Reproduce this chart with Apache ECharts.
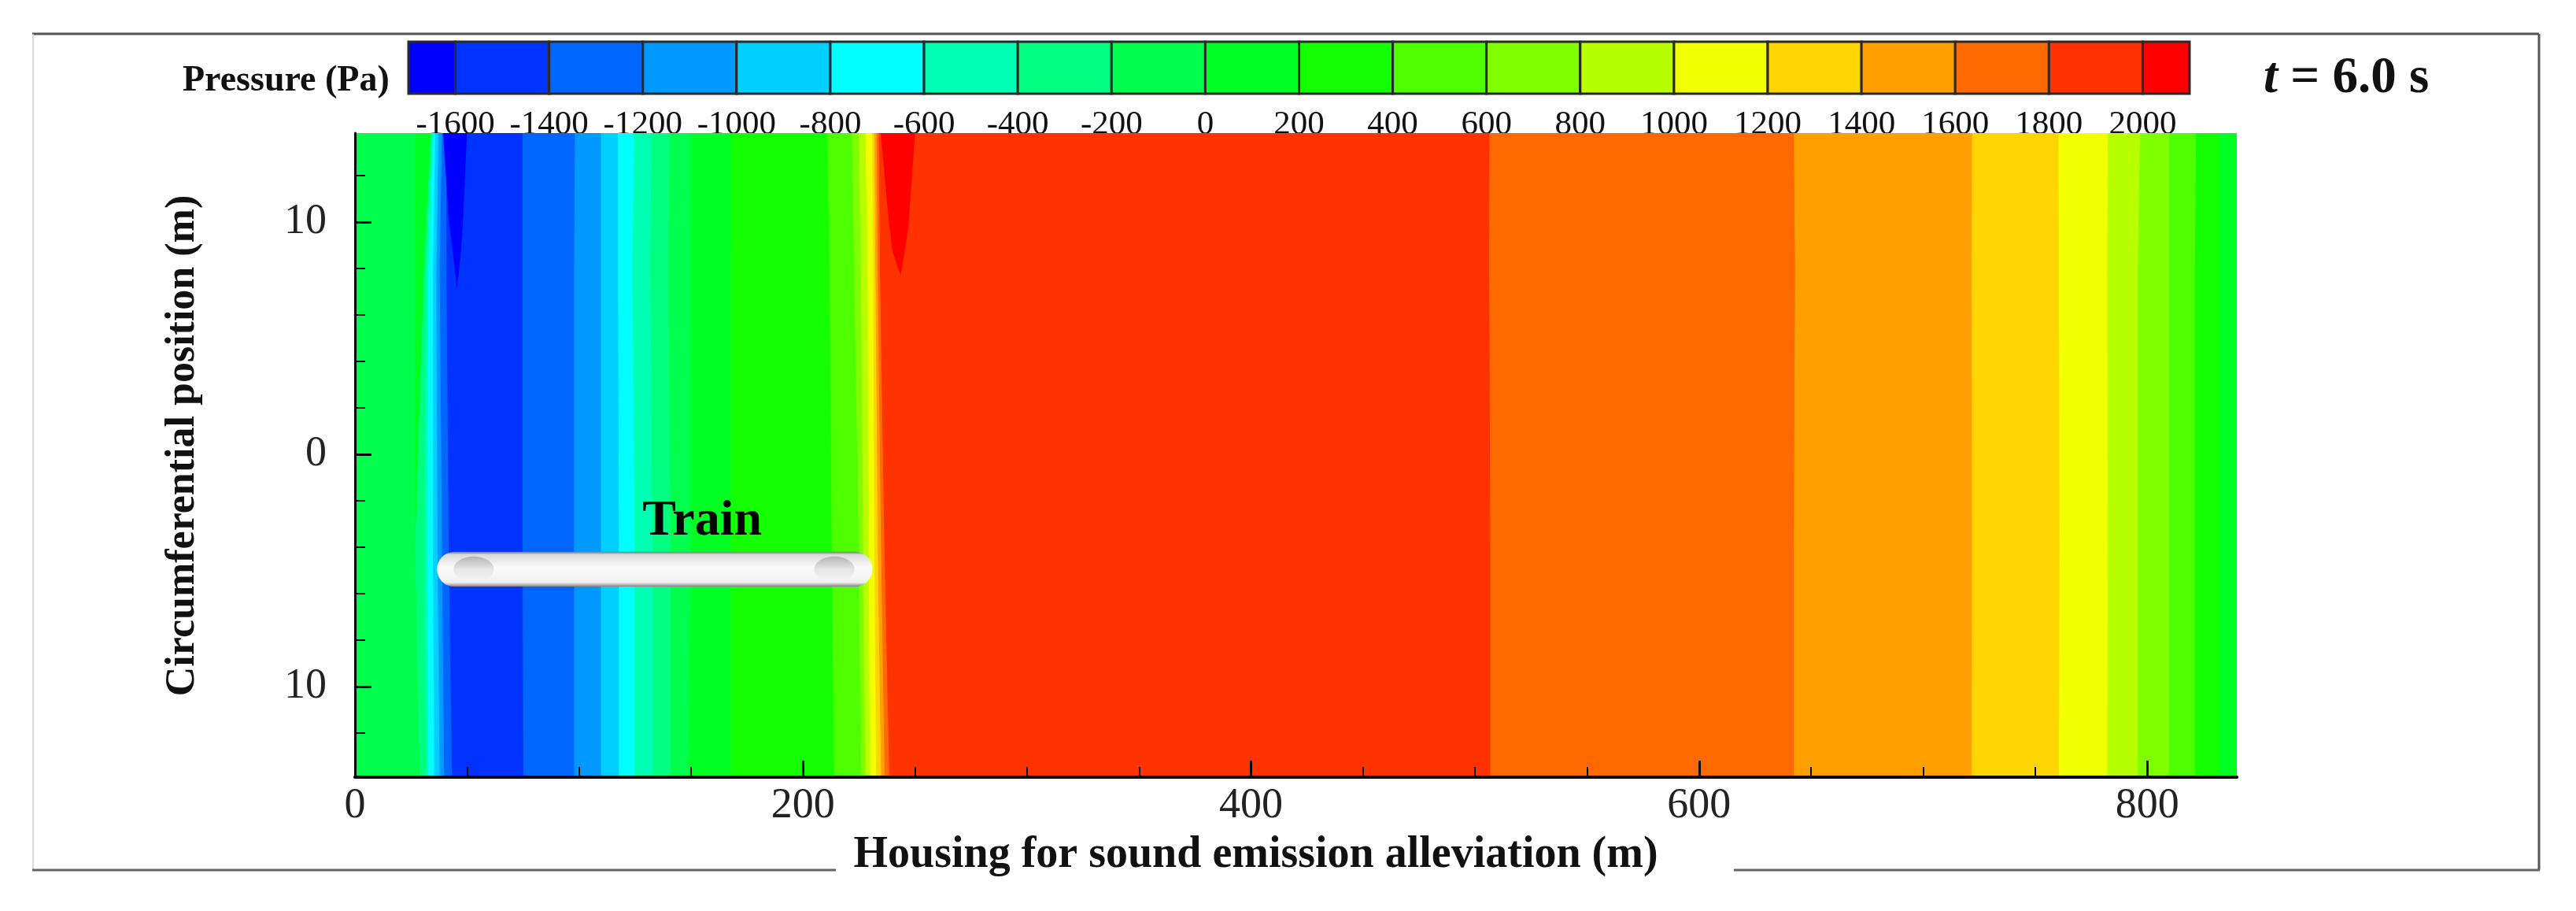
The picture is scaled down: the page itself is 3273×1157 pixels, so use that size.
<!DOCTYPE html>
<html>
<head>
<meta charset="utf-8">
<title>Pressure t = 6.0 s</title>
<script src="https://cdn.jsdelivr.net/npm/echarts@6/dist/echarts.min.js"></script>
<style>
    html, body { margin: 0; padding: 0; background: #fff; }
    #chart { width: 3273px; height: 1157px; }
</style>
</head>
<body>
<div id="chart"></div>
<script>
var FONT = '"Liberation Serif", serif';

// colour bar
var pressureEdges = [-1700, -1600, -1400, -1200, -1000, -800, -600, -400, -200, 0, 200, 400, 600, 800, 1000, 1200, 1400, 1600, 1800, 2000, 2100];
var pressureTicks = [-1600, -1400, -1200, -1000, -800, -600, -400, -200, 0, 200, 400, 600, 800, 1000, 1200, 1400, 1600, 1800, 2000];
var pressureColors = ['#0000ff', '#0033ff', '#0066ff', '#0099ff', '#00d0ff', '#00ffff', '#00ffb3', '#00ff80', '#00ff4d', '#00ff22',
    '#14ff00', '#4dff00', '#80ff00', '#b8ff00', '#f2ff00', '#ffd500', '#ffa000', '#ff6a00', '#ff3300', '#ff0000'];

// axes
var xRange = [0, 840];
var yRange = [-13.9, 13.83];
var xMajor = [0, 200, 400, 600, 800];
var xMinor = [50, 100, 150, 250, 300, 350, 450, 500, 550, 650, 700, 750];
var yMajor = [-10, 0, 10];
var yMinor = [-12, -8, -6, -4, -2, 2, 4, 6, 8, 12];

// contour field: band colour index, then its right edge (m) at each of the y levels
var yLevels = [13.83, 8, -4, -13.9];
var bandLevel = [8, 9, 7, 6, 5, 4, 3, 2, 1, 2, 3, 4, 5, 6, 7, 8, 9, 10, 11, 12, 13, 14, 15, 16, 17, 18, 17, 16, 15, 14, 13, 12, 11, 10, 9];
var bandEdges = [
    [27, 27, 27, 29],
    [34, 31, 27, 29],
    [34.5, 32, 31, 32],
    [35, 33, 32.5, 33],
    [36, 35, 35, 35.5],
    [37.5, 36.5, 37, 38],
    [39, 38, 39, 40],
    [41, 41, 42, 43.5],
    [75, 75, 75, 75.3],
    [98.4, 98, 98, 98],
    [110, 110, 110, 110],
    [117.6, 117.6, 118, 118],
    [124.8, 124, 125, 125],
    [132.5, 132, 133, 133],
    [140.6, 140, 141, 141],
    [150, 150, 150, 149],
    [168.3, 168, 168, 168],
    [211, 212, 213, 214],
    [222, 223, 225, 226],
    [225, 226, 227, 228],
    [228, 229, 229.5, 230],
    [231, 231.5, 232, 232.8],
    [232, 232.5, 233.5, 235],
    [233, 233.5, 235, 236.6],
    [234, 234.5, 236.5, 238.7],
    [506.6, 506.5, 507, 507],
    [642.5, 643, 642.5, 642.5],
    [722, 721.8, 722, 721.8],
    [760.6, 760.8, 761, 760.8],
    [782.6, 782.3, 782.5, 782.3],
    [797, 796, 796, 796],
    [810, 810, 810, 810],
    [822, 821.5, 821.5, 821.5],
    [832.5, 832.5, 832.5, 832.5],
    [840, 840, 840, 840]
];

// the two small low / high pressure tongues near the top
var blueTongue = [[39.3, 13.83], [42, 10], [43.7, 8.7], [45.5, 7.1], [47.3, 8.7], [48.2, 10], [50, 13.83]];
var redTongue = [[234.7, 13.83], [238.3, 10], [240, 8.7], [243.6, 7.7], [245.4, 8.7], [247.2, 10], [250, 13.83]];

// train body and its two noses
var trainX = [36.6, 231];
var trainY = [-4.2, -5.7];
var noseLeftX = [44, 62];
var noseRightX = [205, 223];
var noseY = [-4.4, -5.5];
var trainLabel = [155, -2.9];

function renderBand(params, api) {
    var i = params.dataIndex;
    var right = bandEdges[i];
    var pts = [];
    for (var k = 0; k < yLevels.length; k++) {
        pts.push(api.coord([right[k], yLevels[k]]));
    }
    for (var k = yLevels.length - 1; k >= 0; k--) {
        pts.push(api.coord([i === 0 ? 0 : bandEdges[i - 1][k], yLevels[k]]));
    }
    var c = pressureColors[bandLevel[i]];
    return { type: 'polygon', shape: { points: pts }, style: { fill: c, stroke: c, lineWidth: 1 } };
}

function renderTongue(params, api) {
    var t = params.dataIndex === 0 ? blueTongue : redTongue;
    return {
        type: 'polygon',
        shape: { points: t.map(function (p) { return api.coord(p); }) },
        style: { fill: pressureColors[params.dataIndex === 0 ? 0 : 19] }
    };
}

function noseShape(api, xs) {
    var a = api.coord([xs[0], noseY[0]]);
    var b = api.coord([xs[1], noseY[1]]);
    return {
        type: 'ellipse',
        shape: { cx: (a[0] + b[0]) / 2, cy: (a[1] + b[1]) / 2, rx: (b[0] - a[0]) / 2, ry: (b[1] - a[1]) / 2 },
        style: {
            fill: new echarts.graphic.LinearGradient(0, 0, 0, 1, [
                { offset: 0, color: '#b4b4b4' },
                { offset: 0.5, color: '#e6e6e6' },
                { offset: 1, color: '#f4f4f4' }
            ])
        }
    };
}

function renderTrain(params, api) {
    var a = api.coord([trainX[0], trainY[0]]);
    var b = api.coord([trainX[1], trainY[1]]);
    var l = api.coord(trainLabel);
    return {
        type: 'group',
        children: [
            {
                type: 'rect',
                shape: { x: a[0], y: a[1], width: b[0] - a[0], height: b[1] - a[1], r: (b[1] - a[1]) / 2 },
                style: {
                    fill: new echarts.graphic.LinearGradient(0, 0, 0, 1, [
                        { offset: 0, color: '#7a7a7a' },
                        { offset: 0.08, color: '#dadada' },
                        { offset: 0.45, color: '#fbfbfb' },
                        { offset: 0.88, color: '#f0f0f0' },
                        { offset: 1, color: '#808080' }
                    ])
                }
            },
            noseShape(api, noseLeftX),
            noseShape(api, noseRightX),
            {
                type: 'text',
                x: l[0],
                y: l[1],
                style: { text: 'Train', fill: '#000', font: 'bold 64px ' + FONT, align: 'center', verticalAlign: 'middle' }
            }
        ]
    };
}

function renderSwatch(params, api) {
    var i = params.dataIndex;
    var a = api.coord([pressureEdges[i], 1]);
    var b = api.coord([pressureEdges[i + 1], 0]);
    return {
        type: 'rect',
        shape: { x: a[0], y: a[1], width: b[0] - a[0], height: b[1] - a[1] },
        style: { fill: pressureColors[i], stroke: '#2a2a2a', lineWidth: 3 }
    };
}

var myChart = echarts.init(document.getElementById('chart'));
var plotAxisFont = { fontFamily: FONT, fontSize: 54, color: '#222' };

var option = {
    animation: false,
    backgroundColor: '#fff',
    grid: [
        { left: 451, top: 169, width: 2391, height: 818 },
        { left: 519, top: 53, width: 2263, height: 66 }
    ],
    xAxis: [
        {
            type: 'value', gridIndex: 0, position: 'bottom', min: xRange[0], max: xRange[1], z: 10,
            splitLine: { show: false },
            axisLine: { show: true, onZero: false, lineStyle: { color: '#000', width: 4 } },
            axisTick: { show: true, inside: true, length: 21, customValues: xMajor, lineStyle: { color: '#000', width: 3 } },
            axisLabel: { customValues: xMajor, margin: 10, formatter: function (v) { return String(v); }, ...plotAxisFont },
            name: 'Housing for sound emission alleviation (m)',
            nameLocation: 'middle',
            nameGap: 72,
            nameTextStyle: { fontFamily: FONT, fontWeight: 'bold', fontSize: 56, color: '#111', padding: [0, 102, 0, 0] }
        },
        {
            type: 'value', gridIndex: 0, position: 'bottom', min: xRange[0], max: xRange[1], z: 10,
            splitLine: { show: false },
            axisLine: { show: false, onZero: false },
            axisTick: { show: true, inside: true, length: 13, customValues: xMinor, lineStyle: { color: '#000', width: 2 } },
            axisLabel: { show: false }
        },
        {
            type: 'value', gridIndex: 1, position: 'bottom', min: pressureEdges[0], max: pressureEdges[pressureEdges.length - 1],
            splitLine: { show: false },
            axisLine: { show: false, onZero: false },
            axisTick: { show: false },
            axisLabel: {
                customValues: pressureTicks, margin: 18, fontFamily: FONT, fontSize: 43, color: '#111',
                formatter: function (v) { return String(v); }
            }
        }
    ],
    yAxis: [
        {
            type: 'value', gridIndex: 0, position: 'left', min: yRange[0], max: yRange[1], z: 10,
            splitLine: { show: false },
            axisLine: { show: true, onZero: false, lineStyle: { color: '#000', width: 3 } },
            axisTick: { show: true, inside: true, length: 21, customValues: yMajor, lineStyle: { color: '#000', width: 3 } },
            axisLabel: { customValues: yMajor, margin: 36, formatter: function (v) { return String(Math.abs(v)); }, ...plotAxisFont },
            name: 'Circumferential position (m)',
            nameLocation: 'middle',
            nameRotate: 90,
            nameGap: 192,
            nameTextStyle: { fontFamily: FONT, fontWeight: 'bold', fontSize: 52, color: '#111', padding: [0, 0, 0, 24] }
        },
        {
            type: 'value', gridIndex: 0, position: 'left', min: yRange[0], max: yRange[1], z: 10,
            splitLine: { show: false },
            axisLine: { show: false, onZero: false },
            axisTick: { show: true, inside: true, length: 13, customValues: yMinor, lineStyle: { color: '#000', width: 2 } },
            axisLabel: { show: false }
        },
        { type: 'value', gridIndex: 1, min: 0, max: 1, show: false }
    ],
    series: [
        { type: 'custom', name: 'Pressure bands', xAxisIndex: 0, yAxisIndex: 0, z: 2, clip: true, silent: true, renderItem: renderBand, data: bandLevel },
        { type: 'custom', name: 'Tongues', xAxisIndex: 0, yAxisIndex: 0, z: 3, clip: true, silent: true, renderItem: renderTongue, data: [0, 1] },
        { type: 'custom', name: 'Train', xAxisIndex: 0, yAxisIndex: 0, z: 4, clip: false, silent: true, renderItem: renderTrain, data: [0] },
        { type: 'custom', name: 'Colour bar', xAxisIndex: 2, yAxisIndex: 2, z: 2, clip: false, silent: true, renderItem: renderSwatch, data: pressureColors }
    ],
    graphic: [
        // outer frame, bottom line is broken by the axis title
        { type: 'line', shape: { x1: 41, y1: 43, x2: 3226, y2: 43 }, style: { stroke: '#555', lineWidth: 3 } },
        { type: 'line', shape: { x1: 3226, y1: 43, x2: 3226, y2: 1105 }, style: { stroke: '#555', lineWidth: 3 } },
        { type: 'line', shape: { x1: 42, y1: 43, x2: 42, y2: 1105 }, style: { stroke: '#ccc', lineWidth: 1.5 } },
        { type: 'line', shape: { x1: 41, y1: 1105, x2: 1062, y2: 1105 }, style: { stroke: '#666', lineWidth: 3 } },
        { type: 'line', shape: { x1: 2203, y1: 1105, x2: 3227, y2: 1105 }, style: { stroke: '#666', lineWidth: 3 } },
        {
            type: 'text', x: 232, y: 103,
            style: { text: 'Pressure (Pa)', fill: '#111', font: 'bold 46px ' + FONT, align: 'left', verticalAlign: 'middle' }
        },
        {
            type: 'text', x: 2876, y: 100,
            style: {
                text: '{t|t}{r| = 6.0 s}',
                align: 'left',
                verticalAlign: 'middle',
                rich: {
                    t: { font: 'italic bold 65px ' + FONT, fill: '#111' },
                    r: { font: 'bold 65px ' + FONT, fill: '#111' }
                }
            }
        }
    ]
};
myChart.setOption(option);
</script>
</body>
</html>
